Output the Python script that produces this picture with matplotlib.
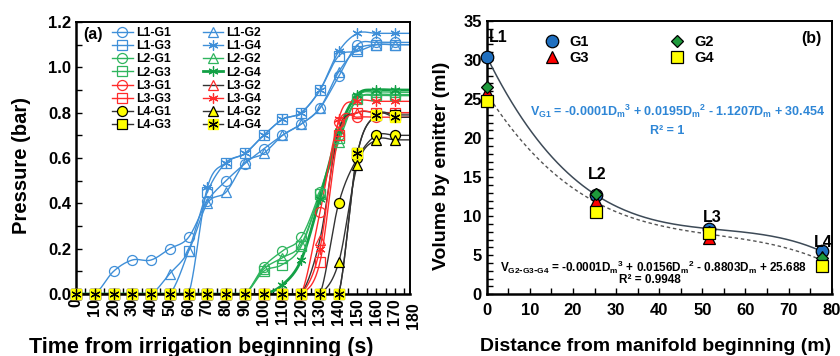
import numpy as np
import matplotlib
matplotlib.use("Agg")
import matplotlib.pyplot as plt
from matplotlib.legend_handler import HandlerTuple
from matplotlib.lines import Line2D

plt.rcParams['font.family'] = ['Liberation Sans', 'DejaVu Sans']
plt.rcParams['font.weight'] = 'bold'
plt.rcParams['mathtext.default'] = 'regular'

# ---------------- data: panel (a) ----------------
time_s = [0, 10, 20, 30, 40, 50, 60, 70, 80, 90, 100, 110, 120, 130, 140, 150, 160, 170]
L1_G1 = [0, 0, 0.10, 0.15, 0.15, 0.20, 0.25, 0.41, 0.50, 0.575, 0.64, 0.70, 0.75, 0.82, 0.96, 1.10, 1.11, 1.11]
L1_G2 = [0, 0, 0, 0, 0, 0.09, 0.19, 0.40, 0.45, 0.58, 0.62, 0.70, 0.75, 0.82, 0.98, 1.08, 1.10, 1.10]
L1_G3 = [0, 0, 0, 0, 0, 0, 0.19, 0.45, 0.58, 0.62, 0.70, 0.77, 0.80, 0.90, 1.05, 1.07, 1.10, 1.10]
L1_G4 = [0, 0, 0, 0, 0, 0, 0, 0.47, 0.58, 0.62, 0.70, 0.77, 0.80, 0.90, 1.07, 1.15, 1.15, 1.15]
L2_G1 = [0, 0, 0, 0, 0, 0, 0, 0, 0, 0, 0.12, 0.19, 0.25, 0.45, 0.70, 0.86, 0.875, 0.875]
L2_G2 = [0, 0, 0, 0, 0, 0, 0, 0, 0, 0, 0.11, 0.16, 0.22, 0.44, 0.67, 0.87, 0.89, 0.89]
L2_G3 = [0, 0, 0, 0, 0, 0, 0, 0, 0, 0, 0.10, 0.13, 0.21, 0.44, 0.69, 0.86, 0.88, 0.88]
L2_G4 = [0, 0, 0, 0, 0, 0, 0, 0, 0, 0, 0, 0.04, 0.15, 0.42, 0.72, 0.88, 0.90, 0.90]
L3_G1 = [0, 0, 0, 0, 0, 0, 0, 0, 0, 0, 0, 0, 0, 0.36, 0.76, 0.78, 0.78, 0.78]
L3_G2 = [0, 0, 0, 0, 0, 0, 0, 0, 0, 0, 0, 0, 0, 0.24, 0.72, 0.80, 0.80, 0.80]
L3_G3 = [0, 0, 0, 0, 0, 0, 0, 0, 0, 0, 0, 0, 0, 0.14, 0.70, 0.80, 0.80, 0.80]
L3_G4 = [0, 0, 0, 0, 0, 0, 0, 0, 0, 0, 0, 0, 0, 0.20, 0.77, 0.85, 0.85, 0.85]
L4_G1 = [0, 0, 0, 0, 0, 0, 0, 0, 0, 0, 0, 0, 0, 0, 0.40, 0.60, 0.70, 0.70]
L4_G2 = [0, 0, 0, 0, 0, 0, 0, 0, 0, 0, 0, 0, 0, 0, 0.14, 0.57, 0.68, 0.68]
L4_G3 = [0, 0, 0, 0, 0, 0, 0, 0, 0, 0, 0, 0, 0, 0, 0, 0.62, 0.79, 0.79]
L4_G4 = [0, 0, 0, 0, 0, 0, 0, 0, 0, 0, 0, 0, 0, 0, 0, 0.62, 0.79, 0.78]
time_ticks = list(range(0, 190, 10))

# ---------------- data: panel (b) ----------------
distance_m = [0, 25.4, 51.6, 77.7]
vol_G1 = [30.45, 12.7, 8.4, 5.5]
vol_G2 = [26.6, 12.8, 8.0, 4.7]
vol_G3 = [25.9, 12.0, 7.2, 4.8]
vol_G4 = [24.7, 10.5, 7.9, 3.6]
point_labels = ['L1', 'L2', 'L3', 'L4']


def smooth(x, y, n=24):
    """Catmull-Rom smoothing (like spreadsheet 'smoothed line')."""
    pts = np.column_stack([x, y]).astype(float)
    P = np.vstack([pts[0], pts, pts[-1]])
    out = []
    t = np.linspace(0, 1, n, endpoint=False)[:, None]
    for i in range(1, len(P) - 2):
        p0, p1, p2, p3 = P[i - 1], P[i], P[i + 1], P[i + 2]
        seg = 0.5 * ((2 * p1) + (-p0 + p2) * t + (2 * p0 - 5 * p1 + 4 * p2 - p3) * t ** 2
                     + (-p0 + 3 * p1 - 3 * p2 + p3) * t ** 3)
        out.append(seg)
    out.append(P[-2][None])
    return np.vstack(out)


fig = plt.figure(figsize=(8.4, 3.56), dpi=100)
axA = fig.add_axes([76 / 840, 1 - 294 / 356, (410 - 76) / 840, (294 - 22) / 356])
axB = fig.add_axes([486.7 / 840, 1 - 294.3 / 356, (831.7 - 486.7) / 840, (294.3 - 21) / 356])

XMAX = 178
BLUE = '#3f8fd8'
GREEN = '#2fb55e'
DGREEN = '#12a045'
RED = '#ff2b2b'
DARK = '#333333'
YEL = '#ffff00'
MS = 7.2

series = [
    ('L1-G1', L1_G1, BLUE, 'o', 'none', BLUE, 1.0),
    ('L1-G2', L1_G2, BLUE, '^', 'none', BLUE, 1.0),
    ('L1-G3', L1_G3, BLUE, 's', 'none', BLUE, 1.0),
    ('L1-G4', L1_G4, BLUE, (6, 2, 0), 'none', BLUE, 1.0),
    ('L2-G1', L2_G1, GREEN, 'o', 'none', GREEN, 1.0),
    ('L2-G2', L2_G2, GREEN, '^', 'none', GREEN, 1.0),
    ('L2-G3', L2_G3, GREEN, 's', 'none', GREEN, 1.0),
    ('L2-G4', L2_G4, DGREEN, (6, 2, 0), 'none', DGREEN, 2.0),
    ('L3-G1', L3_G1, RED, 'o', 'none', RED, 1.0),
    ('L3-G2', L3_G2, DARK, '^', 'none', RED, 1.0),
    ('L3-G3', L3_G3, RED, 's', 'none', RED, 1.0),
    ('L3-G4', L3_G4, RED, (6, 2, 0), 'none', RED, 1.0),
    ('L4-G1', L4_G1, DARK, 'o', YEL, 'black', 1.0),
    ('L4-G2', L4_G2, DARK, '^', YEL, 'black', 1.0),
    ('L4-G3', L4_G3, DARK, 's', YEL, 'black', 1.0),
]

handles = {}
for name, vals, lc, mk, mfc, mec, lw in series:
    xs = list(time_s) + [XMAX]
    ys = list(vals) + [vals[-1]]
    cur = smooth(xs, ys)
    axA.plot(cur[:, 0], cur[:, 1], color=lc, lw=lw, zorder=2, clip_on=True)
    axA.plot(time_s, vals, ls='none', marker=mk, ms=MS, mfc=mfc, mec=mec, mew=0.9,
             zorder=3, clip_on=False)
    handles[name] = Line2D([], [], color=lc, lw=lw, marker=mk, ms=MS, mfc=mfc, mec=mec, mew=0.9)

# L4-G4 : yellow square + black asterisk
xs = list(time_s) + [XMAX]
ys = list(L4_G4) + [L4_G4[-1]]
cur = smooth(xs, ys)
axA.plot(cur[:, 0], cur[:, 1], color=DARK, lw=1.0, zorder=2)
axA.plot(time_s, L4_G4, ls='none', marker='s', ms=6.5, mfc=YEL, mec=YEL, zorder=4, clip_on=False)
axA.plot(time_s, L4_G4, ls='none', marker=(6, 2, 0), ms=MS, mec='black', mew=0.9, zorder=5,
         clip_on=False)
h1 = Line2D([], [], color=DARK, lw=1.0, marker='s', ms=6.5, mfc=YEL, mec=YEL)
h2 = Line2D([], [], ls='none', marker=(6, 2, 0), ms=MS, mec='black', mew=0.9)
handles['L4-G4'] = (h1, h2)

order = ['L1-G1', 'L1-G3', 'L2-G1', 'L2-G3', 'L3-G1', 'L3-G3', 'L4-G1', 'L4-G3',
         'L1-G2', 'L1-G4', 'L2-G2', 'L2-G4', 'L3-G2', 'L3-G4', 'L4-G2', 'L4-G4']
leg = axA.legend([handles[k] for k in order], order, ncol=2, loc='upper left',
                 bbox_to_anchor=(0.108, 0.982), frameon=False, fontsize=8.8,
                 handlelength=1.7, handletextpad=0.25, columnspacing=2.6,
                 labelspacing=0.1, borderaxespad=0, borderpad=0,
                 handler_map={tuple: HandlerTuple(ndivide=1)})
for t in leg.get_texts():
    t.set_fontweight('bold')

axA.text(0.022, 0.955, '(a)', transform=axA.transAxes, fontsize=11.5, fontweight='bold',
         ha='left', va='center')

axA.set_xlim(0, XMAX)
axA.set_ylim(0, 1.2)
axA.set_xticks([v for v in time_ticks if v <= XMAX])
axA.set_xticklabels([str(v) for v in time_ticks if v <= XMAX], rotation=90, fontsize=11.5,
                    fontweight='bold')
for v in time_ticks:
    if v > XMAX:
        axA.text(v, -0.03, str(v), rotation=90, fontsize=11.5, fontweight='bold',
                 ha='center', va='top', transform=axA.get_xaxis_transform(), clip_on=False)
axA.set_xticks(np.arange(5, XMAX, 10), minor=True)
axA.set_yticks(np.arange(0, 1.21, 0.2))
axA.set_yticklabels(['%.1f' % v for v in np.arange(0, 1.21, 0.2)], fontsize=12, fontweight='bold')
axA.set_yticks(np.arange(0.1, 1.2, 0.2), minor=True)
axA.tick_params(axis='both', which='both', direction='in', length=4, width=1.0)
axA.tick_params(axis='x', which='major', pad=3)
for s in axA.spines.values():
    s.set_linewidth(1.4)
axA.spines['left'].set_linewidth(1.8)
axA.spines['bottom'].set_linewidth(1.8)

fig.text(0.026, 0.534, 'Pressure (bar)', rotation=90, fontsize=14.5, fontweight='bold',
         ha='center', va='center')
fig.text(0.239, 0.052, 'Time from irrigation beginning (s)', fontsize=15.5, fontweight='bold',
         ha='center', va='top')

# ---------------- panel (b) ----------------
c1 = np.polyfit(distance_m, vol_G1, 3)
xall = np.concatenate([distance_m, distance_m, distance_m])
yall = np.concatenate([vol_G2, vol_G3, vol_G4])
c2 = np.polyfit(xall, yall, 3)
dd = np.linspace(min(distance_m), max(distance_m), 200)
axB.plot(dd, np.polyval(c1, dd), color='#3d4a57', lw=1.1, zorder=2)
axB.plot(dd, np.polyval(c2, dd), color='#555555', lw=1.0, ls=(0, (2.5, 2)), zorder=2)

axB.plot(distance_m, vol_G1, ls='none', marker='o', ms=9, mfc='#1f6fbf', mec='black', mew=0.9,
         zorder=3, label='G1', clip_on=False)
axB.plot(distance_m, vol_G3, ls='none', marker='^', ms=8, mfc='#ff0000', mec='black', mew=0.9,
         zorder=4, label='G3', clip_on=False)
axB.plot(distance_m, vol_G2, ls='none', marker='D', ms=6, mfc='#1e9a3c', mec='black', mew=0.9,
         zorder=5, label='G2', clip_on=False)
axB.plot(distance_m, vol_G4, ls='none', marker='s', ms=8, mfc='#ffff00', mec='black', mew=0.9,
         zorder=6, label='G4', clip_on=False)

lab_pos = [(0.4, 32.9, 'left'), (25.7, 15.3, 'center'), (52.2, 9.8, 'center'), (78.1, 6.6, 'center')]
for (x, y, ha), lab in zip(lab_pos, point_labels):
    axB.text(x, y, lab, fontsize=11.5, fontweight='bold', ha=ha, va='center', zorder=7)

legB = axB.legend(loc='upper left', bbox_to_anchor=(0.165, 0.948), ncol=2, frameon=False,
                  fontsize=10.5, handlelength=1.2, handletextpad=0.6, columnspacing=5.4,
                  labelspacing=0.15, borderaxespad=0, borderpad=0)
for t in legB.get_texts():
    t.set_fontweight('bold')

EQBLUE = '#2e86d6'
axB.text(44.2, 23.4, r'V$_{G1}$ = -0.0001D$_m$$^3$ + 0.0195D$_m$$^2$ - 1.1207D$_m$ + 30.454',
         color=EQBLUE, fontsize=9, fontweight='bold', ha='center', va='center')
axB.text(41.8, 20.9, 'R² = 1', color=EQBLUE, fontsize=9, fontweight='bold', ha='center',
         va='center')
axB.text(38.6, 3.5, r'V$_{G2\text{-}G3\text{-}G4}$ = -0.0001D$_m$$^3$ + 0.0156D$_m$$^2$ - 0.8803D$_m$ + 25.688',
         color='black', fontsize=8.5, fontweight='bold', ha='center', va='center')
axB.text(37.9, 1.8, 'R² = 0.9948', color='black', fontsize=8.5, fontweight='bold', ha='center',
         va='center')
axB.text(0.94, 0.935, '(b)', transform=axB.transAxes, fontsize=11.5, fontweight='bold',
         ha='center', va='center')

axB.set_xlim(0, 80)
axB.set_ylim(0, 35)
axB.set_xticks(np.arange(0, 81, 10))
axB.set_xticklabels([str(v) for v in range(0, 81, 10)], fontsize=12, fontweight='bold')
axB.set_xticks(np.arange(5, 80, 10), minor=True)
axB.set_yticks(np.arange(0, 36, 5))
axB.set_yticklabels([str(v) for v in range(0, 36, 5)], fontsize=12, fontweight='bold')
axB.set_yticks(np.arange(0, 35, 1), minor=True)
axB.tick_params(axis='both', which='both', direction='in', length=4, width=1.0)
axB.tick_params(axis='x', which='major', pad=6)
for s in axB.spines.values():
    s.set_linewidth(1.4)
axB.spines['left'].set_linewidth(1.8)
axB.spines['bottom'].set_linewidth(1.8)

fig.text(0.526, 0.534, 'Volume by emitter (ml)', rotation=90, fontsize=14, fontweight='bold',
         ha='center', va='center')
fig.text(0.781, 0.051, 'Distance from manifold beginning (m)', fontsize=14, fontweight='bold',
         ha='center', va='top')

fig.savefig('out.png', dpi=100)
